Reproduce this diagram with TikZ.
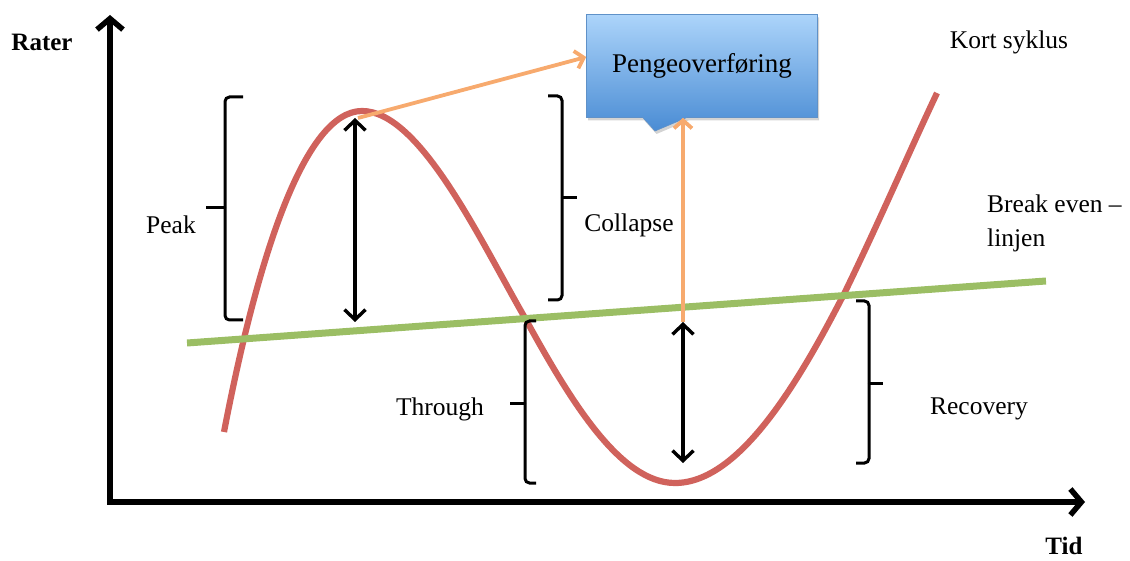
\documentclass[tikz,border=0pt]{standalone}
\usepackage{fontspec}
\setmainfont{Liberation Serif}
\usetikzlibrary{arrows.meta,shapes.callouts,shadows}
\definecolor{cred}{RGB}{208,98,92}
\definecolor{cgreen}{RGB}{155,190,100}
\definecolor{corange}{RGB}{247,170,110}
\definecolor{btop}{RGB}{172,212,250}
\definecolor{bbot}{RGB}{74,140,212}
\definecolor{bdraw}{RGB}{95,145,200}
\begin{document}
\begin{tikzpicture}[x=1pt,y=-1pt,
  lbl/.style={font=\fontsize{25.5}{34}\selectfont, inner sep=0pt},
  blbl/.style={lbl, font=\fontsize{25}{33}\selectfont\bfseries},
  axis/.style={line width=5.5pt, -{Straight Barb[length=11pt,width=26pt,line width=5.5pt]}},
  dbl/.style={line width=3.4pt, {Straight Barb[length=10pt,width=21pt,line width=3.4pt]}-{Straight Barb[length=10pt,width=21pt,line width=3.4pt]}},
  oarrow/.style={corange, line width=3.8pt, -{Straight Barb[length=8pt,width=18pt,line width=3.8pt]}},
  bracket/.style={line width=3pt, rounded corners=4.5pt},
  tick/.style={line width=3pt},
  curve/.style={cred, line width=6.2pt},
  beline/.style={cgreen, line width=7pt},
  callbox/.style={rectangle callout, draw=bdraw, line width=0.6pt, top color=btop, bottom color=bbot,
    minimum width=231pt, minimum height=103pt, inner sep=0pt, font=\fontsize{27}{32}\selectfont,
    drop shadow={opacity=0.35, shadow xshift=1.5pt, shadow yshift=-3pt}}
]
\useasboundingbox (0,0) rectangle (1130,561);

% axes
\coordinate (O) at (110,502);
\coordinate (Ytop) at (110,15);
\coordinate (Xend) at (1085,502);
\draw[axis] (O) -- (Ytop);
\draw[axis] ([xshift=-2.75pt]O) -- (Xend);
\node[blbl] (rater) at (42,42) {Rater};
\node[blbl] (tid) at (1064,546) {Tid};

% red curve
\coordinate (c0) at (224,432);
\coordinate (peak) at (362,111);
\coordinate (c2) at (525,318);
\coordinate (trough) at (675,483);
\coordinate (c4) at (845,292);
\coordinate (c5) at (937,93);
\draw[curve] (c0) .. controls (258,255) and (305,111) .. (peak)
  .. controls (420,111) and (480,240) .. (c2)
  .. controls (570,400) and (620,483) .. (trough)
  .. controls (740,483) and (800,380) .. (c4)
  .. controls (880,220) and (910,150) .. (c5);

% green line
\coordinate (g0) at (187,343);
\coordinate (g1) at (1046,281);
\draw[beline] (g0) -- (g1);

% box
\node[callbox, callout absolute pointer={(655,131)}, callout pointer width=44pt] (pe) at (702,66) {\raisebox{-5pt}{Pengeoverføring}};

% orange arrows
\coordinate (pk) at (358,118);
\draw[oarrow] (pk) -- ([yshift=9pt]pe.west);
\coordinate (tr) at (683,322);
\draw[oarrow] (tr) -- (tr |- pe.south);

% black double arrows
\coordinate (pkb) at (355,322);
\coordinate (pkt) at (355,118);
\draw[dbl] (pkt) -- (pkb);
\coordinate (trb) at (683,463);
\draw[dbl] (tr) -- (trb);

% brackets
\draw[bracket] (243,97) -| (225,208);
\draw[bracket] (225,208) |- (243,320);
\draw[tick] (226,208) -- (206,208);

\draw[bracket] (548,96) -| (562,198);
\draw[bracket] (562,198) |- (548,300);
\draw[tick] (561,198) -- (577,198);

\draw[bracket] (536,321) -| (525,403);
\draw[bracket] (525,403) |- (536,483);
\draw[tick] (526,403) -- (510,403);

\draw[bracket] (856,301) -| (869,383);
\draw[bracket] (869,383) |- (856,463);
\draw[tick] (868,383) -- (883,383);

% labels
\node[lbl] (peakl) at (171,225) {Peak};
\node[lbl] (coll) at (629,225) {Collapse};
\node[lbl] (thr) at (440,409) {Through};
\node[lbl] (rec) at (979,409) {Recovery};
\node[lbl] (kort) at (1009,42) {Kort syklus};
\node[lbl, anchor=north west, align=left] (be) at (987,195) {Break even –\\linjen};
\end{tikzpicture}
\end{document}
